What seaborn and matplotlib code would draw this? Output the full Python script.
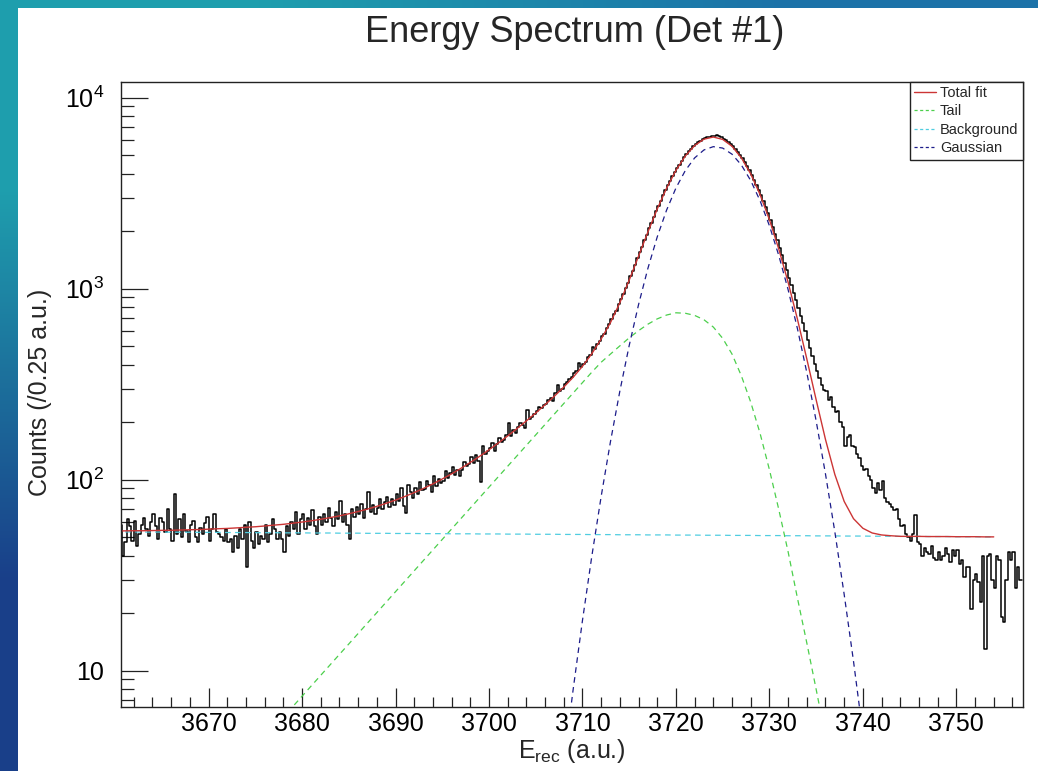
import numpy as np
import pandas as pd
import matplotlib
matplotlib.use("Agg")
import matplotlib.pyplot as plt
import seaborn as sns
from matplotlib.ticker import FixedLocator, MultipleLocator, NullFormatter, FixedFormatter
from matplotlib.lines import Line2D
from matplotlib.patches import Rectangle

# ---------------- data ----------------
hist_lo = 3660.5          # first bin edge
bin_width = 0.25          # (/0.25 a.u.)
hist_counts = [
    58, 40,
    47, 62, 57, 48,   61, 45, 52, 58,   63, 55, 51, 60,   66, 57, 49, 63,
    60, 53, 70, 55,   48, 84, 52, 62,   50, 66, 54, 47,   58, 61, 50, 47,
    56, 52, 59, 64,   48, 55, 66, 53,   52, 50, 48, 55,   47, 49, 42, 51,
    44, 55, 49, 58,   35, 60, 48, 44,   53, 46, 51, 49,   58, 47, 52, 62,
    55, 49, 53, 49,   42, 57, 51, 60,   55, 68, 52, 62,
    66, 55, 63, 58,   69, 57, 52, 64,   58, 66, 60, 71,   63, 57, 68, 62,
    77, 60, 66, 58,   49, 70, 64, 72,   66, 75, 63, 70,   86, 68, 74, 66,
    71, 79, 70, 76,   81, 72, 79, 74,   84, 77, 90, 73,   67, 94, 86, 80,
    91, 84, 97, 88,   89, 99, 94, 86,   104, 93, 101, 96, 99, 111, 102, 108,
    116, 106, 113, 104, 112, 124, 118, 121, 131, 122, 134, 126, 97, 151, 136, 142,
    146, 156, 141, 153, 165, 157, 162, 171, 197, 170, 181, 176, 189, 199, 193, 186,
    232, 209, 214, 222, 228, 239, 236, 247, 250, 262, 268, 259, 283, 313, 292, 300,
    318, 326, 337, 345, 360, 372, 406, 390,
    405, 412, 440, 452, 495, 486, 514, 530, 566, 582, 626, 652,
    690, 735, 768, 828, 880, 940, 1010, 1075, 1160, 1240, 1330, 1440,
    1550, 1660, 1790, 1915, 2070, 2210, 2370, 2540, 2720, 2890, 3080, 3270,
    3480, 3660, 3870, 4080, 4290, 4470, 4680, 4870, 5070, 5230, 5400, 5570,
    5730, 5840, 5950, 6070, 6150, 6210, 6260, 6340, 6300, 6380, 6290, 6220,
    6110, 5980, 5850, 5730, 5570, 5390, 5200, 5020, 4830, 4600, 4390, 4180,
    3960, 3730, 3510, 3300, 3090, 2870, 2670, 2480, 2300, 2110, 1940, 1790,
    1640, 1500, 1370, 1250, 1140, 1040, 950, 870, 790, 720, 660, 600,
    540, 490, 445, 405, 370, 340, 315, 295,
    290, 262, 270, 240, 225, 228, 200, 189, 150, 168, 172, 150,
    148, 137, 130, 118, 112, 114, 104, 100, 90, 85, 96, 88,
    98, 80, 76, 75, 72, 69, 70, 62, 57, 58, 52, 50,
    48, 52, 65, 47, 46, 40, 44, 42, 41, 45, 39, 38,
    42, 38, 40, 44, 41, 37, 43, 40, 43, 36, 38, 31,
    35, 35, 21, 30, 32, 29, 23, 40, 13, 40, 41, 30,
    27, 40, 38, 19, 18, 30, 42, 38, 42, 27, 35, 30,
]

# fit components sampled at E = 3660 ... 3754 (step 1)
fit_E = list(range(3660, 3755))
background = [
    53.3, 53.3, 53.3, 53.2, 53.2, 53.2, 53.1, 53.1, 53.1, 53.0,
    53.0, 53.0, 52.9, 52.9, 52.9, 52.8, 52.8, 52.8, 52.7, 52.7,
    52.7, 52.6, 52.6, 52.6, 52.5, 52.5, 52.5, 52.4, 52.4, 52.4,
    52.3, 52.3, 52.3, 52.2, 52.2, 52.2, 52.1, 52.1, 52.1, 52.0,
    52.0, 52.0, 51.9, 51.9, 51.9, 51.8, 51.8, 51.8, 51.7, 51.7,
    51.7, 51.6, 51.6, 51.6, 51.5, 51.5, 51.5, 51.4, 51.4, 51.4,
    51.3, 51.3, 51.3, 51.2, 51.2, 51.2, 51.1, 51.1, 51.1, 51.0,
    51.0, 51.0, 50.9, 50.9, 50.9, 50.8, 50.8, 50.8, 50.7, 50.7,
    50.7, 50.6, 50.6, 50.6, 50.5, 50.5, 50.5, 50.4, 50.4, 50.4,
    50.3, 50.3, 50.3, 50.2, 50.2,
]
tail = [
    0.59, 0.67, 0.76, 0.86, 0.98, 1.11, 1.26, 1.43, 1.62, 1.84,
    2.09, 2.37, 2.68, 3.04, 3.45, 3.91, 4.44, 5.04, 5.71, 6.48,
    7.35, 8.34, 9.46, 10.73, 12.17, 13.80, 15.66, 17.76, 20.14, 22.85,
    25.92, 29.40, 33.35, 37.83, 42.91, 48.67, 55.21, 62.62, 71.03, 80.57,
    91.39, 103.7, 117.6, 133.4, 151.3, 171.6, 194.7, 220.8, 250.5, 284.1,
    322.3, 365.6, 412, 455, 502, 553, 603, 652, 695, 728,
    748, 744, 725, 688, 630, 550, 455, 350, 255, 175,
    113, 70, 42, 24, 14, 8.0, 4.5, 2.4, 1.2, 0.6,
    0.3, 0.15, 0.08, 0.04, 0.02, 0.01, 0, 0, 0, 0,
    0, 0, 0, 0, 0,
]
gaussian = [
    0, 0, 0, 0, 0, 0, 0, 0, 0, 0,
    0, 0, 0, 0, 0, 0, 0, 0, 0, 0,
    0, 0, 0, 0, 0, 0, 0, 0, 0, 0,
    0, 0, 0, 0, 0, 0, 0, 0, 0, 0,
    0, 0, 0, 0, 0, 0, 0.46, 1.27, 3.26, 7.94,
    18.3, 39.7, 81.6, 158.5, 290.8, 503.8, 825, 1277, 1867, 2579,
    3366, 4152, 4839, 5328, 5544, 5450, 5063, 4444, 3686, 2889,
    2139, 1496, 989.6, 618, 364.7, 203.5, 107.2, 53.4, 25.1, 11.2,
    4.69, 1.86, 0.70, 0.25, 0, 0, 0, 0, 0, 0,
    0, 0, 0, 0, 0,
]

x_major = [3670, 3680, 3690, 3700, 3710, 3720, 3730, 3740, 3750]
y_major = [10, 100, 1000, 10000]
y_major_labels = ["10", r"$\mathregular{10^{2}}$", r"$\mathregular{10^{3}}$", r"$\mathregular{10^{4}}$"]

# ---------------- style ----------------
sns.set_theme(style="white")
plt.rcParams["font.family"] = ["Liberation Sans", "DejaVu Sans"]
plt.rcParams["mathtext.fontset"] = "custom"
plt.rcParams["mathtext.rm"] = "Liberation Sans"
plt.rcParams["mathtext.it"] = "Liberation Sans:italic"

W, H = 1038, 771
fig = plt.figure(figsize=(W / 100, H / 100), dpi=100)

# slide background gradient + white canvas
bg_ax = fig.add_axes([0, 0, 1, 1], zorder=-10)
grad = np.array([[[0.12, 0.62, 0.68], [0.11, 0.45, 0.66]],
                 [[0.10, 0.25, 0.54], [0.10, 0.31, 0.58]]])
bg_ax.imshow(grad, extent=[0, 1, 0, 1], aspect="auto", interpolation="bilinear")
bg_ax.add_patch(Rectangle((18 / W, 0), 1 - 18 / W, 1 - 8 / H,
                          transform=bg_ax.transAxes, facecolor="white", edgecolor="none"))
bg_ax.set_xlim(0, 1)
bg_ax.set_ylim(0, 1)
bg_ax.axis("off")

L, R, T, B = 120.7, 1022.7, 81.7, 706.7
ax = fig.add_axes([L / W, 1 - B / H, (R - L) / W, (B - T) / H])
ax.set_facecolor("white")

# histogram
n_bins = len(hist_counts)
df = pd.DataFrame({"E": hist_lo + bin_width * (np.arange(n_bins) + 0.5), "counts": hist_counts})
sns.histplot(data=df, x="E", weights="counts", binwidth=bin_width,
             binrange=(hist_lo, hist_lo + bin_width * n_bins), element="step",
             fill=False, color="black", linewidth=1.1, ax=ax)

# fit components
fit = pd.DataFrame({"E": fit_E, "bg": background, "tail": tail, "gaus": gaussian})
fit["total"] = fit["bg"] + fit["tail"] + fit["gaus"]

red = "#cc3535"
green = "#4ccf4c"
cyan = "#4fcde0"
navy = "#1c1c8a"
dash = (0, (4.5, 3.5))

tail_df = fit[fit["tail"] > 0.3]
gaus_df = fit[fit["gaus"] > 0.3]
sns.lineplot(data=tail_df, x="E", y="tail", color=green, linewidth=0.9, linestyle=dash, ax=ax, estimator=None, sort=False)
sns.lineplot(data=fit, x="E", y="bg", color=cyan, linewidth=0.9, linestyle=dash, ax=ax, estimator=None, sort=False)
sns.lineplot(data=gaus_df, x="E", y="gaus", color=navy, linewidth=0.9, linestyle=dash, ax=ax, estimator=None, sort=False)
sns.lineplot(data=fit, x="E", y="total", color=red, linewidth=1.0, ax=ax, estimator=None, sort=False)

ax.set_yscale("log")
ax.set_xlim(3660.6, 3757.1)
ax.set_ylim(6.48, 12130)

ax.xaxis.set_major_locator(FixedLocator(x_major))
ax.xaxis.set_minor_locator(MultipleLocator(2))
ax.yaxis.set_major_locator(FixedLocator(y_major))
ax.yaxis.set_major_formatter(FixedFormatter(y_major_labels))
minor_y = [m * 10 ** k for k in range(0, 5) for m in range(2, 10)]
ax.yaxis.set_minor_locator(FixedLocator(minor_y))
ax.yaxis.set_minor_formatter(NullFormatter())

for s in ax.spines.values():
    s.set_color("#222222")
    s.set_linewidth(1.0)
ax.tick_params(axis="both", which="both", direction="in", top=False, right=False,
               left=True, bottom=True, color="#222222", width=0.9,
               labelsize=18, labelcolor="black")
ax.tick_params(axis="y", which="major", length=19.4, pad=12)
ax.tick_params(axis="y", which="minor", length=9.4)
ax.tick_params(axis="x", which="major", length=13.7, pad=3.6)
ax.tick_params(axis="x", which="minor", length=7.2)
ax.grid(False)

ax.set_xlabel(r"$\mathregular{E_{rec}}$ (a.u.)", fontsize=18, labelpad=1)
ax.set_ylabel("")
fig.text(40 / W, 1 - 392 / H, "Counts (/0.25 a.u.)", rotation=90, ha="center", va="center", fontsize=18)
fig.text(575 / W, 1 - 33 / H, "Energy Spectrum (Det #1)", ha="center", va="center", fontsize=26)

handles = [
    Line2D([], [], color=red, linewidth=1.0),
    Line2D([], [], color=green, linewidth=0.9, linestyle=(0, (2.5, 2.0))),
    Line2D([], [], color=cyan, linewidth=0.9, linestyle=(0, (2.5, 2.0))),
    Line2D([], [], color=navy, linewidth=0.9, linestyle=(0, (2.5, 2.0))),
]
leg = ax.legend(handles, ["Total fit", "Tail", "Background", "Gaussian"],
                loc="upper right", bbox_to_anchor=(1, 1), borderaxespad=0,
                frameon=True, fancybox=False, shadow=False, framealpha=1,
                edgecolor="#222222", fontsize=10.5, handlelength=1.5,
                handletextpad=0.25, labelspacing=0.3, borderpad=0.3)
leg.get_frame().set_linewidth(1.0)

fig.savefig("out.png", dpi=100)
